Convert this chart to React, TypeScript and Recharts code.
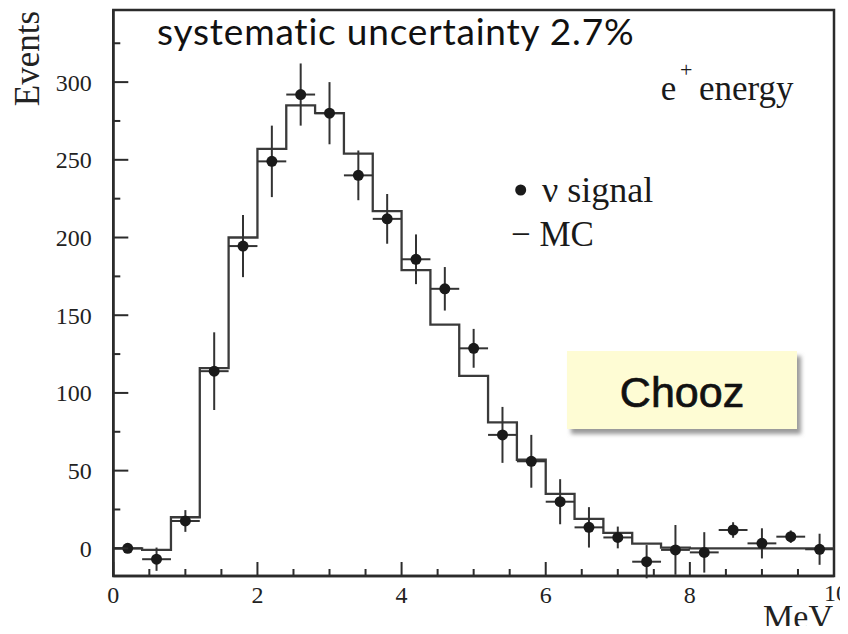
import React from 'react';
import { ComposedChart, Line, Scatter, ErrorBar, XAxis, YAxis, ReferenceArea } from 'recharts';

// MC histogram: bin edges (MeV) and expected counts per bin
const binEdges = [0, 0.4, 0.8, 1.2, 1.6, 2.0, 2.4, 2.8, 3.2, 3.6, 4.0, 4.4, 4.8, 5.2, 5.6, 6.0, 6.4, 6.8, 7.2, 7.6, 8.0, 8.4, 8.8, 9.2, 9.6, 10.0];
const mcCounts = [0, -1, 20, 116, 200, 257, 285, 280, 254, 217, 179, 144, 111, 81, 57, 35, 19, 10, 3, 0.5, 0, 0, 0, 0, 0];

// neutrino signal data points
const binCenters = [0.2, 0.6, 1.0, 1.4, 1.8, 2.2, 2.6, 3.0, 3.4, 3.8, 4.2, 4.6, 5.0, 5.4, 5.8, 6.2, 6.6, 7.0, 7.4, 7.8, 8.2, 8.6, 9.0, 9.4, 9.8];
const signalCounts = [0, -7, 17.6, 114, 194.5, 249, 292, 280, 240, 212, 186, 167, 128.7, 73, 56, 30, 13.5, 7, -8.6, -1, -2.6, 11.8, 3.2, 7.5, -0.6];
const signalErrors = [3, 7.5, 7, 25, 20, 23, 20, 20, 16, 16, 16, 14, 12.5, 18, 17, 14.5, 13, 7, 10.7, 16, 13, 5, 9.7, 4, 10];
const binHalfWidth = 0.2;

const xTicks = [0, 0.5, 1, 1.5, 2, 2.5, 3, 3.5, 4, 4.5, 5, 5.5, 6, 6.5, 7, 7.5, 8, 8.5, 9, 9.5, 10];
const xLabelTicks = [0, 2, 4, 6, 8, 10];
const yTicks = [0, 25, 50, 75, 100, 125, 150, 175, 200, 225, 250, 275, 300, 325];
const yLabelTicks = [0, 50, 100, 150, 200, 250, 300];
const yDomain = [-17.8, 346.4];

const mcData = binEdges.map((x, i) => ({ x, mc: i < mcCounts.length ? mcCounts[i] : mcCounts[mcCounts.length - 1] }));
const signalData = binCenters.map((x, i) => ({ x, y: signalCounts[i], ey: signalErrors[i], ex: binHalfWidth }));

const serif = '"Liberation Serif", "Times New Roman", serif';
const ink = '#2b2b2b';

const XTick = (props: any) => {
  const { x, y, payload } = props;
  const v = payload.value;
  const major = xLabelTicks.includes(v);
  return (
    <g>
      <line x1={x} x2={x} y1={y} y2={y - (major ? 14 : 7)} stroke={ink} strokeWidth={2} />
      {major && (
        <text x={v === 10 ? x + 2 : x} y={y + (v === 10 ? 25 : 26.5)} textAnchor="middle" fontFamily={serif} fontSize={24} fill="#222">{v}</text>
      )}
    </g>
  );
};

const YTick = (props: any) => {
  const { x, y, payload } = props;
  const v = payload.value;
  const major = yLabelTicks.includes(v);
  return (
    <g>
      <line x1={x} x2={x + (major ? 15 : 7)} y1={y} y2={y} stroke={ink} strokeWidth={2} />
      {major && (
        <text x={x - 21.6} y={y} dy="0.35em" textAnchor="end" fontFamily={serif} fontSize={24} fill="#222">{v}</text>
      )}
    </g>
  );
};

const Dot = (props: any) => <circle cx={props.cx} cy={props.cy} r={5.5} fill="#1a1a1a" />;

export default function App() {
  return (
    <div style={{ position: 'relative', width: 840, height: 618 }}>
      <ComposedChart width={840} height={626} margin={{ top: 2, right: 14, left: 5.3, bottom: 0 }}>
        <XAxis
          dataKey="x"
          type="number"
          domain={[0, 10]}
          ticks={xTicks}
          interval={0}
          allowDataOverflow
          height={58}
          tickSize={0}
          tickMargin={0}
          tickLine={false}
          axisLine={{ stroke: ink, strokeWidth: 2.5 }}
          tick={<XTick />}
        />
        <YAxis
          type="number"
          domain={yDomain}
          ticks={yTicks}
          interval={0}
          allowDataOverflow
          width={100}
          tickSize={0}
          tickMargin={0}
          tickLine={false}
          axisLine={{ stroke: ink, strokeWidth: 2.5 }}
          tick={<YTick />}
        />
        <ReferenceArea x1={0} x2={10} y1={yDomain[0]} y2={yDomain[1]} fill="none" stroke={ink} strokeWidth={2.5} fillOpacity={0} />
        <Line
          data={mcData}
          dataKey="mc"
          type="stepAfter"
          stroke="#3a3a3a"
          strokeWidth={2.3}
          dot={false}
          activeDot={false}
          isAnimationActive={false}
        />
        <Scatter data={signalData} dataKey="y" shape={<Dot />} isAnimationActive={false}>
          <ErrorBar dataKey="ey" direction="y" width={0} stroke="#333" strokeWidth={2} isAnimationActive={false} />
          <ErrorBar dataKey="ex" direction="x" width={0} stroke="#333" strokeWidth={2} isAnimationActive={false} />
        </Scatter>
      </ComposedChart>
      <svg width={840} height={626} style={{ position: 'absolute', left: 0, top: 0, pointerEvents: 'none' }}>
        <defs>
          <filter id="shadow" x="-10%" y="-10%" width="130%" height="140%">
            <feGaussianBlur stdDeviation="2" />
          </filter>
        </defs>
        <text x={149} y={37} fontFamily="Lato, 'Open Sans', sans-serif" fontSize={37} letterSpacing={0.8} fill="#111">systematic uncertainty 2.7%</text>
        <text transform="translate(31.3, 50.5) rotate(-90)" textAnchor="middle" fontFamily={serif} fontSize={35} fill="#222">Events</text>
        <text x={825} y={620} textAnchor="end" fontFamily={serif} fontSize={34} fill="#222">MeV</text>
        <text x={652.7} y={91.5} fontFamily={serif} fontSize={35} fill="#1a1a1a">e</text>
        <text x={672} y={69} fontFamily={serif} fontSize={22} fill="#1a1a1a">+</text>
        <text x={691} y={91.5} fontFamily={serif} fontSize={35} fill="#1a1a1a">energy</text>
        <circle cx={512.7} cy={182} r={5.5} fill="#1a1a1a" />
        <text x={534} y={193.7} fontFamily={serif} fontSize={36} fill="#1a1a1a">ν signal</text>
        <text x={503} y={237.5} fontFamily={serif} fontSize={35} fill="#1a1a1a">− MC</text>
        <rect x={563} y={348} width={230} height={78} fill="#9a9a9a" filter="url(#shadow)" />
        <rect x={559} y={343} width={230} height={78} fill="#FEFCD4" />
        <text x={674} y={399} textAnchor="middle" fontFamily="'Liberation Sans', Arial, sans-serif" fontSize={43} fill="#111" stroke="#111" strokeWidth={0.7}>Chooz</text>
      </svg>
    </div>
  );
}
